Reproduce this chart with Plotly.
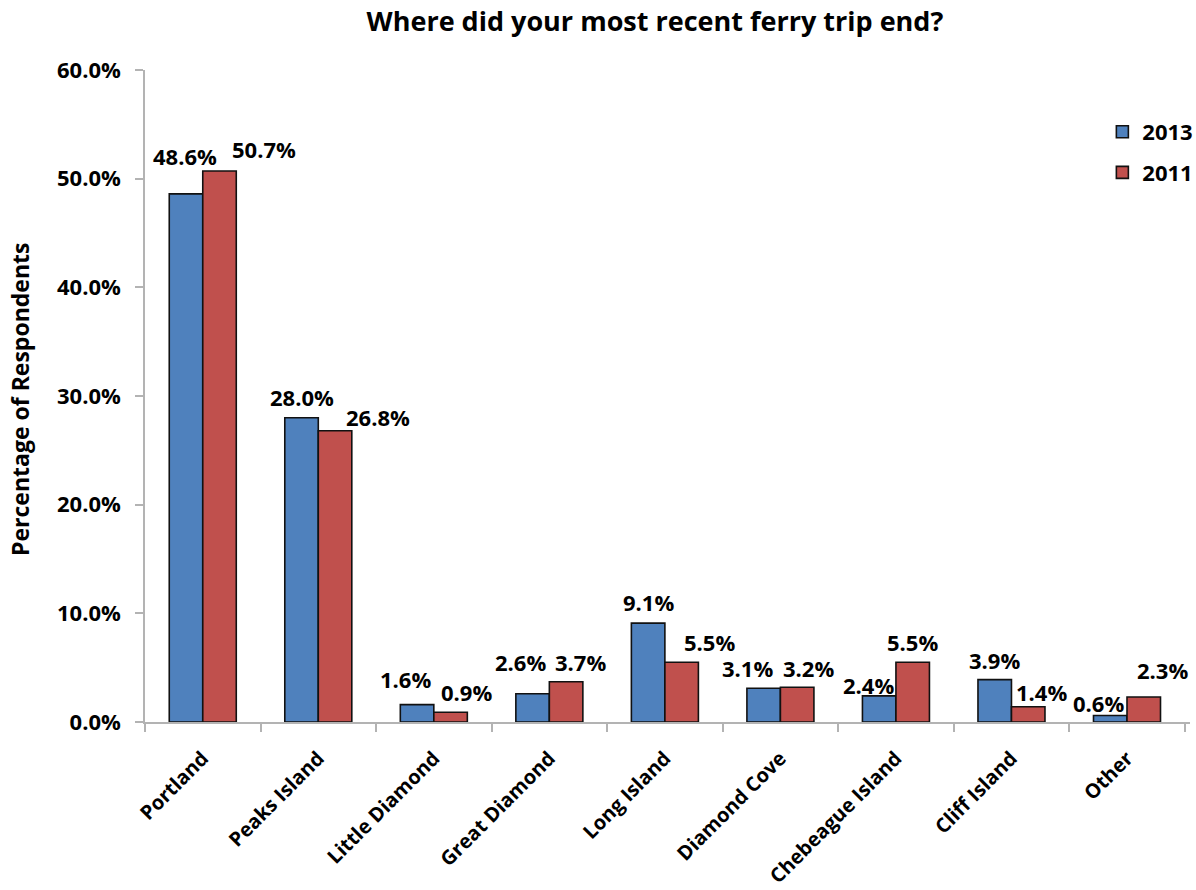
import plotly.graph_objects as go

# Survey results: where respondents' most recent ferry trip ended
categories = ["Portland", "Peaks Island", "Little Diamond", "Great Diamond",
              "Long Island", "Diamond Cove", "Chebeague Island", "Cliff Island", "Other"]
pct_2013 = [48.6, 28.0, 1.6, 2.6, 9.1, 3.1, 2.4, 3.9, 0.6]
pct_2011 = [50.7, 26.8, 0.9, 3.7, 5.5, 3.2, 5.5, 1.4, 2.3]
y_ticks = [0, 10, 20, 30, 40, 50, 60]

FONT = "Open Sans"
BLUE = "#4F81BD"
RED = "#C0504D"
TXT = dict(family=FONT, size=22, color="black", weight="bold")
CAT_TXT = dict(family=FONT, size=20, color="black", weight="bold")

# Label nudges (pixels): horizontal offset from bar centre, height above bar top
nudge_2013 = [(-1, 38), (0, 21), (-12, 26), (-12, 32), (0, 21), (-16, 20), (-11, 11), (0, 20), (-12, 12)]
nudge_2011 = [(45, 22), (43, 14), (16, 20), (15, 20), (28, 20), (12, 19), (0, 20), (14, 15), (19, 27)]

fig = go.Figure()
fig.add_trace(go.Bar(name="2013", x=categories, y=pct_2013,
                     marker=dict(color=BLUE, line=dict(color="#111111", width=1.6)),
                     legendgroup="a"))
fig.add_trace(go.Bar(name="2011", x=categories, y=pct_2011,
                     marker=dict(color=RED, line=dict(color="#111111", width=1.6)),
                     legendgroup="b"))

HALF_BAR = 16.5
annotations = []
for series, nudges, side in ((pct_2013, nudge_2013, -1), (pct_2011, nudge_2011, 1)):
    for cat, val, (dx, dy) in zip(categories, series, nudges):
        annotations.append(dict(
            x=cat, y=val, xref="x", yref="y", text=f"{val:.1f}%",
            showarrow=False, xanchor="center", yanchor="middle",
            xshift=side * HALF_BAR + dx, yshift=dy, font=TXT))

annotations.append(dict(
    text="Percentage of Respondents", xref="paper", yref="paper",
    x=-0.1196, y=0.494, textangle=-90, showarrow=False,
    xanchor="center", yanchor="middle",
    font=dict(family=FONT, size=23, color="black", weight="bold")))

fig.update_layout(
    width=1196, height=890,
    margin=dict(l=145, r=6, t=70, b=168, autoexpand=False),
    paper_bgcolor="white", plot_bgcolor="white",
    barmode="group", bargap=0.42, bargroupgap=0,
    font=dict(family=FONT, color="black"),
    title=dict(text="<b>Where did your most recent ferry trip end?</b>",
               x=0.488, xref="paper", xanchor="center",
               y=1 - 22 / 890, yref="container", yanchor="middle",
               font=dict(family=FONT, size=27, color="black")),
    legend=dict(x=1.008, xanchor="right", y=(722 - 111) / 652, yanchor="top",
                bgcolor="rgba(0,0,0,0)", tracegroupgap=9,
                font=TXT),
    annotations=annotations,
    showlegend=True,
)

fig.update_xaxes(
    showline=True, linecolor="#B3B3B3", linewidth=1.5,
    ticks="outside", ticklen=8, tickcolor="#B3B3B3", tickwidth=1.5,
    tickson="boundaries", tickangle=-45, ticklabelstandoff=15,
    tickfont=CAT_TXT, showgrid=False, zeroline=False, automargin=False,
)
fig.update_yaxes(
    range=[0, 60], tickvals=y_ticks,
    ticktext=[f"{t:.1f}%" for t in y_ticks],
    showline=True, linecolor="#B3B3B3", linewidth=1.5,
    ticks="outside", ticklen=8, tickcolor="#B3B3B3", tickwidth=1.5,
    ticklabelstandoff=10, tickfont=TXT, showgrid=False, zeroline=False,
    automargin=False,
)

fig.write_html("out.html")
